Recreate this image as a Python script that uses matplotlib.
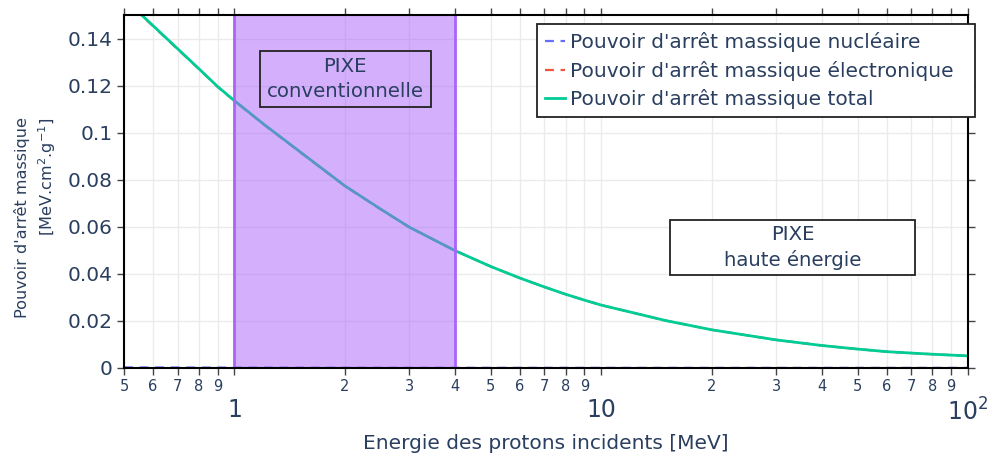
import matplotlib
matplotlib.use('Agg')
import matplotlib.pyplot as plt
from matplotlib.patches import Rectangle
from matplotlib.ticker import FixedLocator, FixedFormatter

plt.rcParams['font.family'] = ['DejaVu Sans']
plt.rcParams['mathtext.fontset'] = 'dejavusans'

# energies in MeV
energy = [0.5, 0.6, 0.7, 0.8, 0.9, 1, 1.2, 1.5, 2, 2.5, 3, 4, 5, 6, 7, 8, 9, 10,
          15, 20, 30, 40, 50, 60, 80, 100]
total = [0.157, 0.1455, 0.1357, 0.1272, 0.1196, 0.1136, 0.1037, 0.0922, 0.0774,
         0.0676, 0.0598, 0.0498, 0.0431, 0.0382, 0.0344, 0.0313, 0.0288, 0.0267,
         0.0201, 0.0162, 0.0119, 0.0095, 0.0080, 0.0069, 0.0058, 0.0051]
nuclear = [0.0002, 0.00017, 0.00015, 0.00013, 0.00012, 0.00011, 0.0001, 0.00008,
           0.00006, 0.00005, 0.00004, 0.00003, 0.000026, 0.000022, 0.00002,
           0.000018, 0.000016, 0.000015, 0.00001, 0.000008, 0.000006, 0.000005,
           0.000004, 0.0000035, 0.000003, 0.0000025]
electronic = [0.1568, 0.1453, 0.1355, 0.1271, 0.1195, 0.1135, 0.1036, 0.0921,
              0.0773, 0.0675, 0.0598, 0.0498, 0.0431, 0.0382, 0.0344, 0.0313,
              0.0288, 0.0267, 0.0201, 0.0162, 0.0119, 0.0095, 0.0080, 0.0069,
              0.0058, 0.0051]

pixe_range = (1, 4)
names = ["Pouvoir d'arrêt massique nucléaire",
         "Pouvoir d'arrêt massique électronique",
         "Pouvoir d'arrêt massique total"]

txt = '#2a3f5f'
purple = '#AB63FA'

fig = plt.figure(figsize=(10, 4.57), dpi=100)
ax = fig.add_axes([0.124, 0.195, 0.844, 0.772])

# trailing spaces give the legend its wide right margin
ax.plot(energy, nuclear, color='#636EFA', ls=(0, (4, 3)), lw=1.6, label=names[0] + '  ', zorder=2)
ax.plot(energy, electronic, color='#EF553B', ls=(0, (4, 3)), lw=1.6, label=names[1] + '  ', zorder=2)
ax.plot(energy, total, color='#00CC96', lw=2, label=names[2] + '  ', zorder=2.5)

ax.axvspan(pixe_range[0], pixe_range[1], color=purple, alpha=0.5, lw=0, zorder=3)
for xv in pixe_range:
    ax.axvline(xv, color=purple, lw=2, zorder=3.1)

ax.set_xscale('log')
ax.set_xlim(0.5, 100)
ax.set_ylim(0, 0.15)

# x ticks
majors = [1, 10, 100]
minors = [0.5, 0.6, 0.7, 0.8, 0.9, 2, 3, 4, 5, 6, 7, 8, 9,
          20, 30, 40, 50, 60, 70, 80, 90]
minor_labels = ['5', '6', '7', '8', '9'] + [str(i) for i in range(2, 10)] * 2
ax.xaxis.set_major_locator(FixedLocator(majors))
ax.xaxis.set_major_formatter(FixedFormatter(['1', '10', '10$^2$']))
ax.xaxis.set_minor_locator(FixedLocator(minors))
ax.xaxis.set_minor_formatter(FixedFormatter(minor_labels))
ax.tick_params(axis='x', which='minor', labelsize=10.5, pad=3)
ax.tick_params(axis='x', which='major', labelsize=17, pad=17)

yt = [0, 0.02, 0.04, 0.06, 0.08, 0.1, 0.12, 0.14]
ax.set_yticks(yt)
ax.set_yticklabels(['0', '0.02', '0.04', '0.06', '0.08', '0.1', '0.12', '0.14'])
ax.tick_params(axis='y', labelsize=14.5, pad=3)

ax.tick_params(which='both', direction='out', length=5, width=1, color='#444444',
               labelcolor=txt, top=True, right=True)

ax.grid(True, which='both', axis='x', color='#ebebeb', lw=1, zorder=0)
ax.grid(True, which='major', axis='y', color='#ebebeb', lw=1, zorder=0)
ax.set_axisbelow(True)
for s in ax.spines.values():
    s.set_linewidth(1.5)
    s.set_color('black')
    s.set_zorder(5)

ax.set_xlabel('Energie des protons incidents [MeV]', fontsize=14.5, color=txt, labelpad=6)
fig.text(0.036, 0.523, "Pouvoir d'arrêt massique\n[MeV.cm$^2$.g$^{-1}$]",
         rotation=90, ha='center', va='center', multialignment='right',
         fontsize=11.6, color=txt, linespacing=1.42)

# annotation boxes
ax.add_patch(Rectangle((0.161, 0.739), 0.203, 0.159, transform=ax.transAxes,
                       fill=False, ec='#222222', lw=1.3, zorder=6))
ax.text(0.262, 0.819, 'PIXE\nconventionnelle', transform=ax.transAxes, ha='center',
        va='center', fontsize=14.2, color=txt, zorder=7, linespacing=1.4)
ax.add_patch(Rectangle((0.647, 0.263), 0.290, 0.156, transform=ax.transAxes,
                       fc='white', ec='#222222', lw=1.3, zorder=6))
ax.text(0.792, 0.341, 'PIXE\nhaute énergie', transform=ax.transAxes, ha='center',
        va='center', fontsize=14.2, color=txt, zorder=7, linespacing=1.4)

leg = ax.legend(loc='upper right', bbox_to_anchor=(1.008, 0.9745), fontsize=14.5,
                frameon=True, fancybox=False, framealpha=1, edgecolor='#222222',
                handlelength=1.0, handletextpad=0.25, borderpad=0.4, labelspacing=0.42,
                borderaxespad=0)
leg.get_frame().set_linewidth(1.3)
leg.set_zorder(8)
for t in leg.get_texts():
    t.set_color(txt)

fig.savefig('out.png', dpi=100)
